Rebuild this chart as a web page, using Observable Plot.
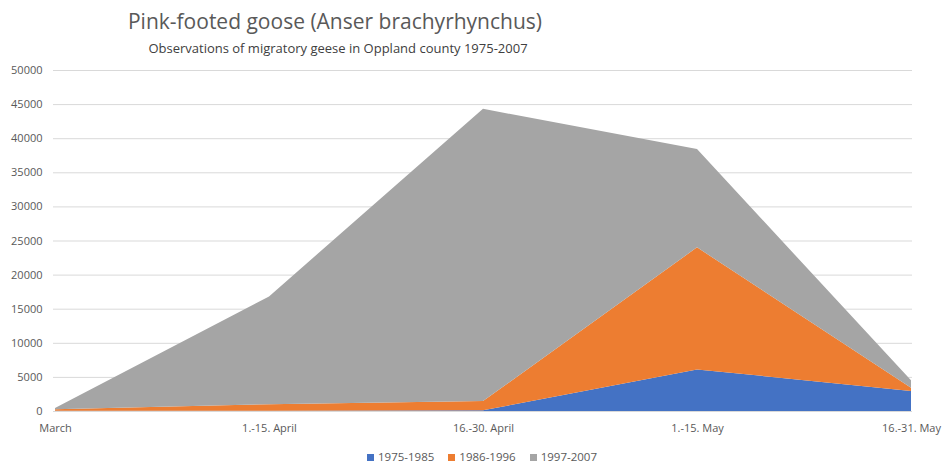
<!DOCTYPE html>
<html>
<head>
<meta charset="utf-8">
<script src="https://cdn.jsdelivr.net/npm/d3@7"></script>
<script src="https://cdn.jsdelivr.net/npm/@observablehq/plot@0.6"></script>
<style>
  body { margin: 0; background: #fff; font-family: "Open Sans", sans-serif; }
  #wrap { width: 944px; }
  .title { width: 670px; text-align: center; padding-top: 4px; height: 34px; line-height: 34px; font-size: 21px; color: #595959; }
  .subtitle { width: 676px; text-align: center; height: 20px; line-height: 20px; font-size: 13px; color: #404040; }
  .legend { width: 964px; padding-top: 4px; height: 20px; line-height: 20px; display: flex; justify-content: center; gap: 14px; font-size: 11.5px; color: #595959; }
  .legend span.sw { display: inline-block; width: 7px; height: 7px; margin-right: 4px; vertical-align: 0px; }
</style>
</head>
<body>
<div id="wrap">
  <div class="title">Pink-footed goose (Anser brachyrhynchus)</div>
  <div class="subtitle">Observations of migratory geese in Oppland county 1975-2007</div>
  <div id="chart"></div>
  <div class="legend" id="legend"></div>
</div>
<script>
const periods = ["March", "1.-15. April", "16.-30. April", "1.-15. May", "16.-31. May"];
const seriesNames = ["1975-1985", "1986-1996", "1997-2007"];
const v1975 = [50, 50, 100, 6100, 2950];
const v1986 = [200, 950, 1350, 17900, 450];
const v1997 = [200, 15800, 42850, 14400, 1100];
const yTicks = [0, 5000, 10000, 15000, 20000, 25000, 30000, 35000, 40000, 45000, 50000];
const colors = ["#4472C4", "#ED7D31", "#A5A5A5"];

const valuesBySeries = [v1975, v1986, v1997];
const data = [];
seriesNames.forEach((s, i) => {
  periods.forEach((p, j) => data.push({period: p, series: s, value: valuesBySeries[i][j]}));
});

const chart = Plot.plot({
  width: 944,
  height: 385,
  marginTop: 12,
  marginBottom: 32,
  marginLeft: 53,
  marginRight: 32,
  style: {fontFamily: "Open Sans, sans-serif", fontSize: "11px", color: "#595959", background: "#fff"},
  x: {type: "point", domain: periods, padding: 0, label: null},
  y: {domain: [0, 50000], label: null},
  color: {domain: seriesNames, range: colors},
  marks: [
    Plot.gridY(yTicks, {stroke: "#d9d9d9", strokeOpacity: 1}),
    Plot.areaY(data, {x: "period", y: "value", fill: "series", z: "series", order: seriesNames}),
    Plot.axisY(yTicks, {tickSize: 0, tickPadding: 11, tickFormat: d3.format("d"), label: null, fill: "#595959"}),
    Plot.axisX({tickSize: 0, tickPadding: 13, label: null, fill: "#595959"})
  ]
});
document.getElementById("chart").appendChild(chart);

const legend = document.getElementById("legend");
seriesNames.forEach((s, i) => {
  const item = document.createElement("div");
  const sw = document.createElement("span");
  sw.className = "sw";
  sw.style.background = colors[i];
  item.appendChild(sw);
  item.appendChild(document.createTextNode(s));
  legend.appendChild(item);
});
</script>
</body>
</html>
